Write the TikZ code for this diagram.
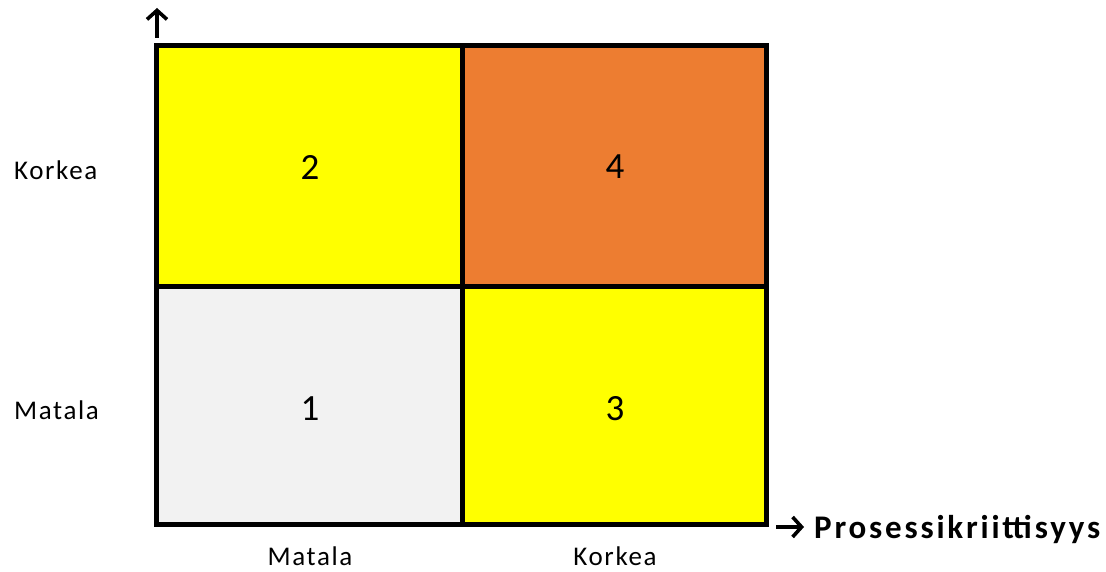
\documentclass[tikz,border=0pt]{standalone}
\usepackage{fontspec}
\setmainfont{Carlito}
\usetikzlibrary{arrows.meta}
\definecolor{cyel}{HTML}{FFFF00}
\definecolor{corg}{HTML}{ED7D31}
\definecolor{cgry}{HTML}{F2F2F2}
\begin{document}
\begin{tikzpicture}[x=1pt,y=-1pt,
  cell/.style={draw=black,line width=5pt,inner sep=0pt,outer sep=0pt,anchor=north west},
  num/.style={font=\fontsize{37}{40}\selectfont},
  lab/.style={font=\addfontfeatures{LetterSpace=6}\fontsize{27}{30}\selectfont,inner sep=0pt},
  axarr/.style={line width=3.6pt,-{Straight Barb[length=9pt,width=20pt,line width=3.6pt]}}]
\useasboundingbox (0,0) rectangle (1106,572);
\node[cell,fill=cyel,minimum width=306pt,minimum height=241pt] (c2) at (156.5,45.5) {};
\node[cell,fill=corg,minimum width=303.5pt,minimum height=241pt] (c4) at (462.5,45.5) {};
\node[cell,fill=cgry,minimum width=306pt,minimum height=237.5pt] (c1) at (156.5,286.5) {};
\node[cell,fill=cyel,minimum width=303.5pt,minimum height=237.5pt] (c3) at (462.5,286.5) {};
\node[num] (n2) at (310,167) {2};
\node[num] (n4) at (615,167) {4};
\node[num] (n1) at (310,409) {1};
\node[num] (n3) at (615,409) {3};
\node[lab,anchor=west] (lk) at (14,170) {Korkea};
\node[lab,anchor=west] (lm) at (14,410) {Matala};
\node[lab] (bm) at (310,556) {Matala};
\node[lab] (bk) at (615,556) {Korkea};
\coordinate (ua) at (157,38);
\coordinate (ub) at (157,8);
\draw[axarr] (ua) -- (ub);
\coordinate (ra) at (776,527);
\coordinate (rb) at (804,527);
\draw[axarr,line width=3.4pt] (ra) -- (rb);
\node[anchor=base west,inner sep=0pt,font=\bfseries\addfontfeatures{LetterSpace=8.5}\fontsize{33}{36}\selectfont] (px) at (814,538) {Prosessikriittisyys};
\end{tikzpicture}
\end{document}
